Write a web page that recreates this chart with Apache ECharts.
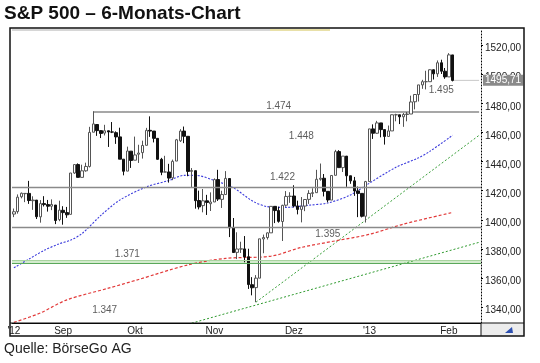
<!DOCTYPE html>
<html><head><meta charset="utf-8">
<script src="https://cdn.jsdelivr.net/npm/echarts@6/dist/echarts.min.js"></script>
<style>html,body{margin:0;padding:0;background:#fff;}#c{width:540px;height:363px;}</style>
</head><body><div id="c"></div>
<script>
// ---- data ----
const dates = [
 "2012-08-15","2012-08-16","2012-08-17","2012-08-20","2012-08-21","2012-08-22","2012-08-23","2012-08-24","2012-08-27","2012-08-28","2012-08-29","2012-08-30","2012-08-31",
 "2012-09-04","2012-09-05","2012-09-06","2012-09-07","2012-09-10","2012-09-11","2012-09-12","2012-09-13","2012-09-14","2012-09-17","2012-09-18","2012-09-19","2012-09-20","2012-09-21","2012-09-24","2012-09-25","2012-09-26","2012-09-27","2012-09-28",
 "2012-10-01","2012-10-02","2012-10-03","2012-10-04","2012-10-05","2012-10-08","2012-10-09","2012-10-10","2012-10-11","2012-10-12","2012-10-15","2012-10-16","2012-10-17","2012-10-18","2012-10-19","2012-10-22","2012-10-23","2012-10-24","2012-10-25","2012-10-26","2012-10-31",
 "2012-11-01","2012-11-02","2012-11-05","2012-11-06","2012-11-07","2012-11-08","2012-11-09","2012-11-12","2012-11-13","2012-11-14","2012-11-15","2012-11-16","2012-11-19","2012-11-20","2012-11-21","2012-11-23","2012-11-26","2012-11-27","2012-11-28","2012-11-29","2012-11-30",
 "2012-12-03","2012-12-04","2012-12-05","2012-12-06","2012-12-07","2012-12-10","2012-12-11","2012-12-12","2012-12-13","2012-12-14","2012-12-17","2012-12-18","2012-12-19","2012-12-20","2012-12-21","2012-12-24","2012-12-26","2012-12-27","2012-12-28","2012-12-31",
 "2013-01-02","2013-01-03","2013-01-04","2013-01-07","2013-01-08","2013-01-09","2013-01-10","2013-01-11","2013-01-14","2013-01-15","2013-01-16","2013-01-17","2013-01-18","2013-01-22","2013-01-23","2013-01-24","2013-01-25","2013-01-28","2013-01-29","2013-01-30","2013-01-31",
 "2013-02-01","2013-02-04"
];
const emptySlots = ["","","","","","",""];
const opens = [1403.9,1405.6,1415.8,1417.9,1418.1,1413.1,1413.5,1402.0,1411.1,1410.4,1409.3,1410.1,1400.1,
 1406.5,1404.9,1403.7,1432.1,1437.9,1429.1,1433.6,1436.6,1460.1,1465.4,1461.2,1459.5,1461.1,1460.3,1459.8,1456.9,1441.6,1433.4,1447.1,
 1440.9,1445.0,1446.1,1451.1,1461.4,1460.9,1455.9,1441.5,1432.8,1432.8,1428.8,1440.3,1454.2,1460.9,1457.3,1433.2,1433.7,1413.2,1409.7,1413.0,1411.0,
 1412.2,1427.6,1414.0,1417.3,1428.3,1394.5,1377.6,1379.9,1380.0,1374.6,1355.4,1353.4,1359.9,1386.8,1387.8,1391.0,1409.2,1406.3,1398.8,1410.0,1416.0,
 1416.3,1409.5,1407.1,1409.4,1414.0,1418.1,1418.6,1427.8,1428.5,1419.5,1413.5,1430.5,1446.8,1435.8,1443.7,1430.2,1426.7,1419.8,1418.1,1402.4,
 1426.2,1462.4,1459.4,1466.5,1461.9,1457.2,1461.0,1472.1,1472.1,1470.7,1472.3,1472.6,1481.0,1486.0,1492.6,1494.8,1494.8,1503.0,1500.2,1507.8,1502.0,
 1498.1,1513.2];
const highs = [1407.7,1417.4,1418.7,1418.1,1426.7,1416.1,1413.5,1413.5,1416.2,1413.6,1414.0,1410.1,1413.1,
 1409.3,1408.8,1432.1,1437.9,1438.7,1437.8,1439.2,1463.8,1474.5,1465.6,1461.5,1465.2,1461.2,1467.1,1460.7,1463.2,1441.6,1450.2,1447.1,
 1457.1,1451.5,1454.3,1463.1,1471.0,1460.9,1455.9,1442.5,1443.9,1438.4,1441.3,1455.5,1462.2,1464.0,1457.3,1435.5,1433.7,1420.0,1421.1,1417.1,1418.8,
 1428.4,1434.3,1419.9,1433.4,1428.3,1401.2,1391.4,1384.9,1388.8,1380.1,1360.6,1362.0,1386.9,1389.8,1391.3,1409.2,1409.2,1409.0,1410.3,1419.7,1418.9,
 1423.7,1413.1,1415.6,1414.0,1420.3,1421.6,1434.3,1438.6,1431.4,1419.5,1430.7,1448.0,1447.8,1443.7,1443.7,1430.2,1429.4,1422.8,1418.1,1426.7,
 1462.4,1465.5,1467.9,1466.5,1461.9,1464.7,1472.3,1472.8,1472.1,1473.3,1474.0,1485.2,1486.0,1492.6,1496.1,1502.3,1503.3,1503.2,1509.4,1509.9,1504.2,
 1514.4,1513.2];
const lows = [1401.8,1404.2,1414.7,1412.1,1410.9,1406.8,1400.5,1398.0,1409.1,1405.6,1406.6,1397.0,1399.0,
 1396.6,1401.3,1403.7,1431.5,1429.0,1429.1,1433.0,1435.9,1460.1,1457.6,1456.1,1457.9,1450.0,1459.5,1452.1,1441.6,1430.5,1433.4,1435.6,
 1440.9,1439.0,1442.0,1451.1,1456.9,1453.1,1441.2,1430.6,1432.8,1425.5,1427.2,1440.3,1453.4,1452.6,1429.9,1422.1,1407.6,1407.1,1405.1,1403.3,1406.0,
 1412.2,1412.9,1408.1,1417.3,1388.1,1377.5,1373.0,1377.2,1370.8,1352.5,1348.1,1343.4,1359.9,1377.0,1386.4,1391.0,1397.7,1398.0,1385.4,1409.0,1411.6,
 1408.5,1403.7,1398.2,1405.9,1410.9,1415.6,1418.6,1426.8,1416.0,1411.9,1413.5,1430.5,1435.8,1432.8,1422.6,1424.7,1416.4,1401.8,1401.6,1398.1,
 1426.2,1455.5,1459.0,1456.6,1451.6,1457.2,1461.0,1467.6,1465.7,1463.8,1467.6,1472.6,1475.8,1481.2,1489.9,1489.5,1494.8,1496.3,1498.1,1500.1,1496.8,
 1498.1,1495.0];
const closes = [1405.5,1415.5,1418.2,1418.1,1413.2,1413.5,1402.1,1411.1,1410.4,1409.3,1410.5,1399.5,1406.6,
 1404.9,1403.4,1432.1,1437.9,1429.1,1433.6,1436.6,1460.0,1465.8,1461.2,1459.3,1461.1,1460.3,1460.2,1456.9,1441.6,1433.3,1447.2,1440.7,
 1444.5,1445.8,1451.0,1461.4,1460.9,1455.9,1441.5,1432.6,1432.8,1428.6,1440.1,1454.9,1460.9,1457.3,1433.2,1433.8,1413.1,1408.8,1413.0,1411.9,1412.2,
 1427.6,1414.2,1417.3,1428.4,1394.5,1377.5,1379.9,1380.0,1374.5,1355.5,1353.3,1359.9,1386.9,1387.8,1391.0,1409.2,1406.3,1398.9,1409.9,1416.0,1416.2,
 1409.5,1407.1,1409.3,1413.9,1418.1,1418.6,1427.8,1428.5,1419.5,1413.6,1430.4,1446.8,1435.8,1443.7,1430.2,1426.7,1419.8,1418.1,1402.4,1426.2,
 1462.4,1459.4,1466.5,1461.9,1457.2,1461.0,1472.1,1472.1,1470.7,1472.3,1472.6,1480.9,1486.0,1492.6,1494.8,1494.8,1503.0,1500.2,1507.8,1502.0,1498.1,
 1513.2,1495.7];

// x-axis tick labels
const tickIdx  = [0, 13, 32, 53, 74, 94, 115];
const tickText = ["'12", "Sep", "Okt", "Nov", "Dez", "'13", "Feb"];
// y-axis tick labels
const yTicks = [1340, 1360, 1380, 1400, 1420, 1440, 1460, 1480, 1500, 1520];

// moving averages (index, value)
const maBlueIdx = [0, 4, 8, 12, 15, 18, 23, 28, 35, 41, 45, 48, 53, 58, 63, 67, 72, 78, 83, 89, 93, 101, 107, 110, 116];
const maBlueVal = [1367, 1373, 1379, 1383.5, 1386, 1390.5, 1403, 1413.5, 1422.5, 1427, 1430.5, 1430.5, 1427, 1422, 1413, 1409, 1408.5, 1410, 1411.5, 1417, 1423.5, 1436, 1442.5, 1447, 1458];
const maRedIdx = [0, 7, 14, 25, 33, 46, 56, 68, 76, 85, 94, 103, 116];
const maRedVal = [1329.5, 1336, 1345, 1353, 1359, 1369, 1373.5, 1375, 1381, 1385.5, 1390, 1397, 1405];

// trend lines (index, value)
const trendSteepIdx = [64, 123];
const trendSteepVal = [1343.4, 1458];
const trendFlatIdx = [47, 123];
const trendFlatVal = [1329, 1384.5];

// horizontal levels
const resistIdx = [21, 123];
const resistVal = [1474, 1474];
const grayLevels = [1422, 1395];
const greenLevel = 1371;
const lastClose = 1495.71;

// level annotations
const noteText = ["1.474", "1.448", "1.422", "1.395", "1.371", "1.347", "1.495"];
const noteIdx  = [70, 76, 71, 83, 30, 24, 113];
const noteVal  = [1478, 1457, 1429, 1390, 1376, 1338, 1489];

// ---- build ----
const cats = dates.concat(emptySlots);
const candles = opens.map((o, i) => [o, closes[i], lows[i], highs[i]]);
const pairs = (xs, ys) => xs.map((x, i) => [x, ys[i]]);
const fmt = v => v.toFixed(2).replace('.', ',');
const FONT = 'Liberation Sans, Arial, sans-serif';
const YMIN = 1329.1, YMAX = 1530.3;

const chart = echarts.init(document.getElementById('c'), null, {renderer: 'canvas'});
chart.setOption({
  animation: false,
  backgroundColor: '#fff',
  grid: {left: 12, right: 59, top: 30, bottom: 40, containLabel: false},
  xAxis: {
    type: 'category', data: cats, boundaryGap: true,
    axisLine: {show: true, lineStyle: {color: '#000', width: 1}},
    axisTick: {show: false},
    splitLine: {show: false},
    axisLabel: {
      interval: (i) => tickIdx.indexOf(i) >= 0,
      formatter: (v, i) => tickText[tickIdx.indexOf(i)] || '',
      fontSize: 10, color: '#222', fontFamily: FONT, margin: 3
    }
  },
  yAxis: [{
    type: 'value', position: 'right', min: YMIN, max: YMAX,
    axisLine: {show: true, lineStyle: {color: '#000', type: [1, 2], width: 1}},
    axisTick: {show: true, customValues: yTicks, length: 2, lineStyle: {color: '#000'}},
    axisLabel: {customValues: yTicks, formatter: fmt, fontSize: 10, color: '#222', fontFamily: FONT, margin: 4,
      verticalAlign: 'top', lineHeight: 7},
    splitLine: {show: false}
  }, {
    type: 'value', position: 'right', min: YMIN, max: YMAX,
    axisLine: {show: false}, axisTick: {show: false}, splitLine: {show: false},
    axisLabel: {customValues: [lastClose], formatter: fmt, fontSize: 10, color: '#fff', fontFamily: FONT,
      backgroundColor: '#8a8a8a', padding: [1, 2, 0, 2], margin: 2}
  }],
  series: [
    {
      type: 'line', data: pairs(trendFlatIdx, trendFlatVal), symbol: 'none', silent: true,
      lineStyle: {color: '#2f9a2f', width: 1, type: [2, 2]}, z: 2
    },
    {
      type: 'line', data: pairs(trendSteepIdx, trendSteepVal), symbol: 'none', silent: true,
      lineStyle: {color: '#3aa03a', width: 1, type: [2, 2]}, z: 2
    },
    {
      type: 'line', data: pairs(maRedIdx, maRedVal), symbol: 'none', smooth: 0.3, silent: true,
      lineStyle: {color: '#e23a3a', width: 1.2, type: [3, 2]}, z: 2
    },
    {
      type: 'line', data: pairs(maBlueIdx, maBlueVal), symbol: 'none', smooth: 0.3, silent: true,
      lineStyle: {color: '#3b3bdc', width: 1.1, type: [2, 1.5]}, z: 2
    },
    {
      type: 'line', data: pairs(resistIdx, resistVal), symbol: 'none', silent: true,
      lineStyle: {color: '#8a8a8a', width: 1.3}, z: 1
    },
    {
      type: 'line', data: [[116, lastClose], [123, lastClose]], symbol: 'none', silent: true,
      lineStyle: {color: '#c8c8c8', width: 1}, z: 1
    },
    {
      type: 'candlestick', data: candles, barWidth: 3, z: 3,
      itemStyle: {color: '#ffffff', color0: '#111111', borderColor: '#555555', borderColor0: '#111111', borderWidth: 1},
      markLine: {
        symbol: 'none', silent: true, label: {show: false}, animation: false,
        data: grayLevels.map(v => ({yAxis: v, lineStyle: {color: '#8a8a8a', width: 1.3, type: 'solid'}}))
          .concat([{yAxis: greenLevel - 0.9, lineStyle: {color: '#5aa85a', width: 1, type: 'solid'}},
                   {yAxis: greenLevel + 1.2, lineStyle: {color: '#a9d4a0', width: 1, type: 'solid'}}])
      },
      markArea: {
        silent: true,
        itemStyle: {color: '#d3ebcd'},
        data: [[{yAxis: greenLevel - 0.9}, {yAxis: greenLevel + 1.2}]]
      }
    },
    {
      type: 'scatter', data: pairs(noteIdx, noteVal), symbolSize: 1, silent: true,
      itemStyle: {color: 'rgba(0,0,0,0)'}, z: 5,
      label: {show: true, position: 'inside', formatter: p => noteText[p.dataIndex],
        fontSize: 10, color: '#333', fontFamily: FONT}
    }
  ],
  graphic: {elements: [
    {type: 'text', x: 4, y: 14, z: 100, style: {text: 'S&P 500 – 6-Monats-Chart', font: 'bold 19px ' + FONT, fill: '#111', verticalAlign: 'middle'}},
    {type: 'text', x: 4, y: 349, z: 100, style: {text: 'Quelle: BörseGo AG', font: '14px ' + FONT, fill: '#222', verticalAlign: 'middle'}},
    {type: 'rect', z: 90, shape: {x: 481, y: 323, width: 43, height: 13}, style: {fill: '#ececec'}},
    {type: 'polygon', z: 95, shape: {points: [[505, 333], [512, 327], [513, 333]]}, style: {fill: '#2c4fb0'}},
    {type: 'rect', z: 90, shape: {x: 12, y: 29, width: 300, height: 2}, style: {fill: '#d6d6d6'}},
    {type: 'rect', z: 90, shape: {x: 270, y: 29, width: 60, height: 2}, style: {fill: '#e8e0a8'}},
    {type: 'rect', z: 100, shape: {x: 10, y: 28, width: 514, height: 308}, style: {fill: 'none', stroke: '#111', lineWidth: 1.5}},
    {type: 'line', z: 100, shape: {x1: 10, y1: 323, x2: 524, y2: 323}, style: {stroke: '#111', lineWidth: 1}},
    {type: 'line', z: 100, shape: {x1: 481, y1: 323, x2: 481, y2: 336}, style: {stroke: '#111', lineWidth: 1}}
  ]}
});
</script>
</body></html>
